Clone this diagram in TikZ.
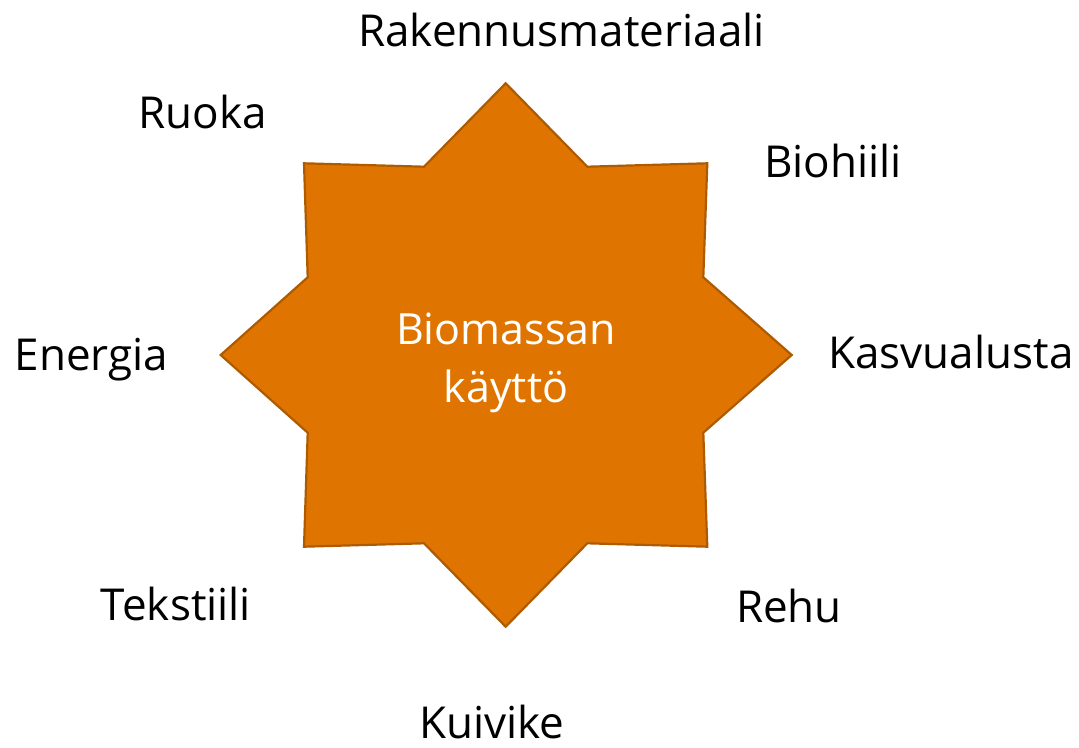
\documentclass[tikz,border=0pt]{standalone}
\usepackage{fontspec}
\setmainfont{Open Sans}
\definecolor{starfill}{HTML}{DF7500}
\definecolor{stardraw}{HTML}{AE5A00}
\begin{document}
\begin{tikzpicture}[x=1pt,y=-1pt,
  lbl/.style={anchor=base,inner sep=0pt,font=\fontsize{44}{52}\selectfont,text=black},
  ctr/.style={anchor=base,inner sep=0pt,font=\fontsize{43}{52}\selectfont,text=white}]
\useasboundingbox (0,0) rectangle (1079,747);
\fill[starfill,draw=stardraw,line width=2.2pt,line join=miter]
  (505.7,83.3) -- (587.3,166.7) -- (707.3,163.3) -- (703.3,277.3) -- (791.7,355)
  -- (703.3,432.7) -- (707.3,546.7) -- (587.3,543.3) -- (505.7,626.7)
  -- (424,543.3) -- (304,546.7) -- (307.7,432.7) -- (220.7,355)
  -- (307.7,277.3) -- (304,163.3) -- (424,166.7) -- cycle;
\node[ctr] (c1) at (506,344) {Biomassan};
\node[ctr] (c2) at (506,402) {käyttö};
\node[lbl] (rak) at (561.5,46) {Rakennusmateriaali};
\node[lbl] (ruo) at (202.5,128) {Ruoka};
\node[lbl] (bio) at (833,177) {Biohiili};
\node[lbl] (ene) at (91.5,370) {Energia};
\node[lbl] (kas) at (951,368) {Kasvualusta};
\node[lbl] (tek) at (176,620) {Tekstiili};
\node[lbl] (reh) at (789,622) {Rehu};
\node[lbl] (kui) at (492,738) {Kuivike};
\end{tikzpicture}
\end{document}
